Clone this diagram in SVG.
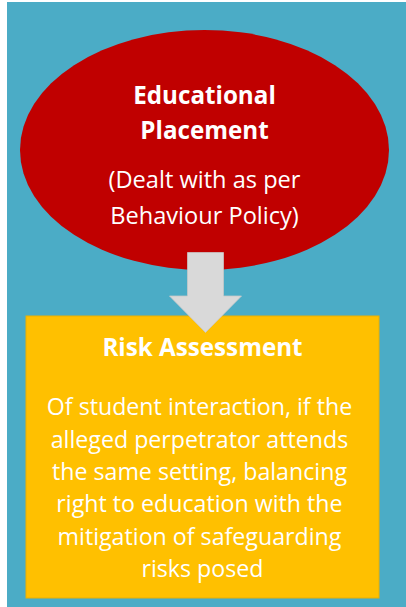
<svg xmlns="http://www.w3.org/2000/svg" width="406" height="607" viewBox="0 0 406 607">
<style>
.t{font-family:"Open Sans","Liberation Sans",Arial,sans-serif;fill:#ffffff;text-anchor:middle}
.b{font-weight:bold}
</style>
<rect x="0" y="0" width="406" height="607" fill="#ffffff"/>
<rect id="background" x="7" y="2" width="399" height="605" fill="#4BACC6"/>
<g id="node-educational-placement">
<ellipse cx="204.5" cy="150" rx="184.5" ry="120" fill="#C00000"/>
<text class="t b" x="204.5" y="104" font-size="24.2">Educational</text>
<text class="t b" x="204.5" y="139" font-size="24.2">Placement</text>
<text class="t" x="204.5" y="188" font-size="23.6">(Dealt with as per</text>
<text class="t" x="204.5" y="224" font-size="23.6">Behaviour Policy)</text>
</g>
<g id="node-risk-assessment">
<rect x="26" y="316" width="353" height="282" fill="#FFC000" stroke="#EBB000" stroke-width="1"/>
<text class="t b" x="202.5" y="356" font-size="24.2">Risk Assessment</text>
<text class="t" font-size="23.2">
<tspan x="202.5" y="415">Of student interaction, if the</tspan>
<tspan x="202.5" y="447.5">alleged perpetrator attends</tspan>
<tspan x="202.5" y="480">the same setting, balancing</tspan>
<tspan x="202.5" y="512">right to education with the</tspan>
<tspan x="202.5" y="545">mitigation of safeguarding</tspan>
<tspan x="202.5" y="577">risks posed</tspan>
</text>
</g>
<g id="connectors">
<polygon points="187.5,252.5 223.5,252.5 223.5,296 241.5,296 205.5,332.5 169.5,296 187.5,296" fill="#D9D9D9" stroke="#C8C8C8" stroke-width="0.75"/>
</g>
</svg>
